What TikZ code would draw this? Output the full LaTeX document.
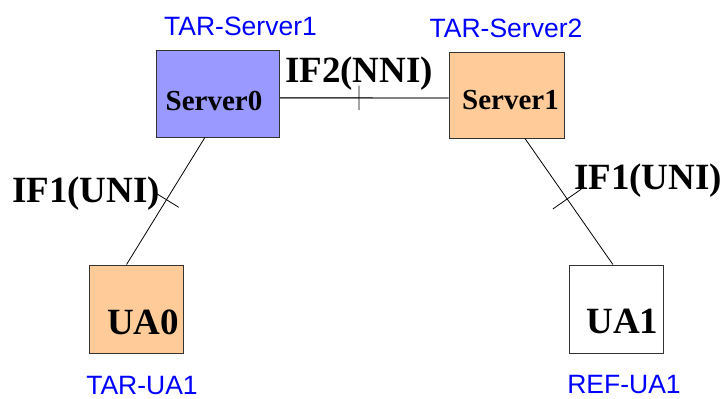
\documentclass[tikz,border=0pt]{standalone}
\usepackage{fontspec}
\setmainfont{Liberation Serif}
\setsansfont{Liberation Sans}
\usetikzlibrary{calc}
\definecolor{srvblue}{RGB}{153,153,255}
\definecolor{peach}{RGB}{255,204,153}
\tikzset{
	box/.style={draw=black!80, line width=1pt, inner sep=0pt},
	boxtext/.style={anchor=base, inner sep=0pt, font=\bfseries\fontsize{29}{30}\selectfont},
	uatext/.style={anchor=base, inner sep=0pt, font=\bfseries\fontsize{37}{38}\selectfont},
	iftext/.style={anchor=base, inner sep=0pt, font=\bfseries\fontsize{37}{38}\selectfont},
	tartext/.style={anchor=base, inner sep=0pt, text=blue, font=\sffamily\fontsize{26.5}{28}\selectfont},
	ifmark/.style={sloped, inner sep=0pt, minimum width=0pt, minimum height=#1},
	ifmark/.default=28pt
}
\begin{document}
\begin{tikzpicture}[x=1pt, y=-1pt]
		%%%%% START %%%%%
		\useasboundingbox (0, 0) rectangle (724, 399);
		
		\node[box, fill=srvblue, minimum width=123pt, minimum height=87pt] (srv0) at (217.5, 93.5) {};
		\node[box, fill=peach, minimum width=115pt, minimum height=86pt] (srv1) at (506.5, 95) {};
		\node[box, fill=peach, minimum width=94pt, minimum height=88pt] (ua0) at (136, 309) {};
		\node[box, fill=white, minimum width=94pt, minimum height=88pt] (ua1) at (616, 309) {};
		
		\node[boxtext] (srv0t) at (214, 110) {Server0};
		\node[boxtext] (srv1t) at (510.5, 109) {Server1};
		\node[uatext] (ua0t) at (143, 334) {UA0};
		\node[uatext] (ua1t) at (622.5, 333) {UA1};
		
		\node[tartext] (tarsrv1) at (240.5, 35) {TAR-Server1};
		\node[tartext] (tarsrv2) at (506, 37) {TAR-Server2};
		\node[tartext] (tarua1) at (142, 394) {TAR-UA1};
		\node[tartext] (refua1) at (624, 393) {REF-UA1};
		
		\draw[line width=1.4pt, color=black!75] (srv0.-4) -- node[ifmark=23pt, pos=0.47] (nni) {} (srv1.183);
		\draw[line width=0.8pt] (nni.north) -- (nni.south);
		\node[iftext] (nnit) at (359, 82) {IF2(NNI)};
		
		\draw[line width=0.8pt] (srv0.254) -- node[ifmark, pos=0.49] (uni0) {} (ua0.102);
		\draw[line width=0.8pt] (uni0.north) -- (uni0.south);
		\node[iftext] (uni0t) at (86, 202) {IF1(UNI)};
		
		\draw[line width=0.8pt] (srv1.293) -- node[ifmark=34pt, pos=0.48] (uni1) {} (ua1.94);
		\draw[line width=0.8pt] (uni1.north) -- (uni1.south);
		\node[iftext] (uni1t) at (648, 189) {IF1(UNI)};
		
		%%%%% END %%%%%
	\end{tikzpicture}
\end{document}
